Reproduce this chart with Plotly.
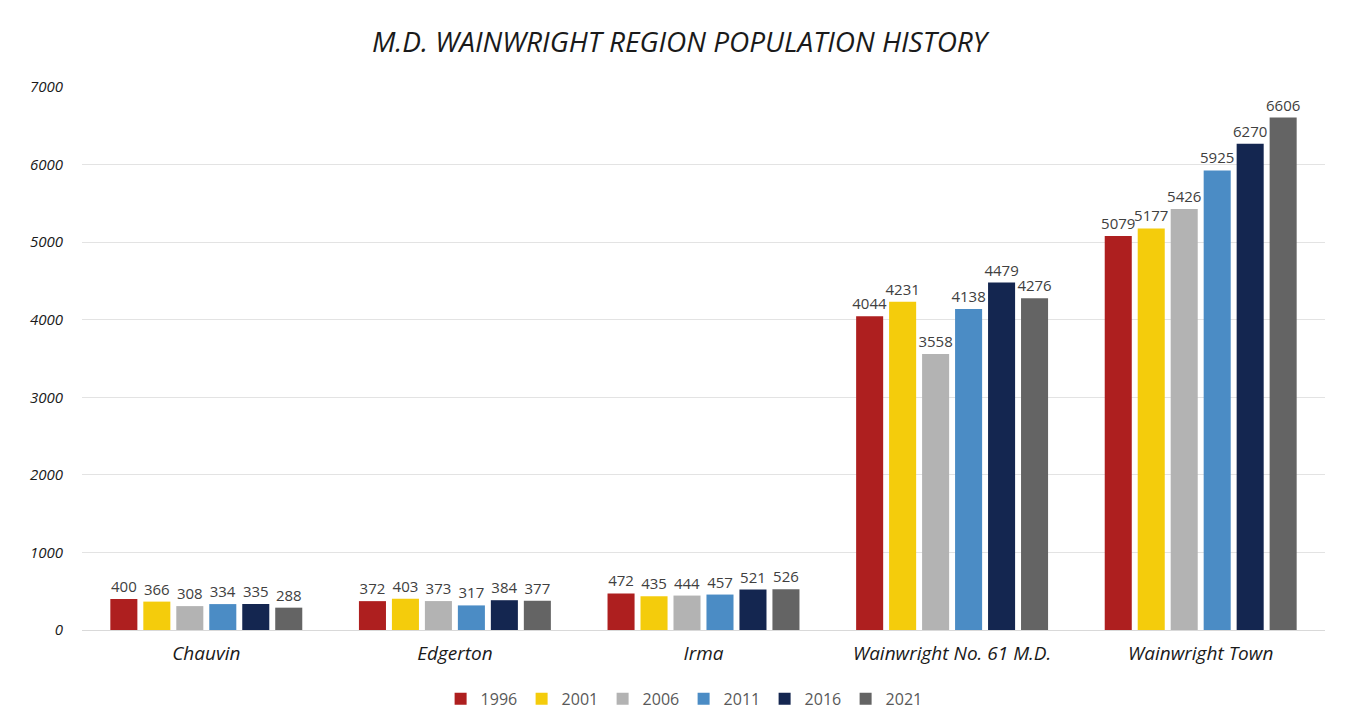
import plotly.graph_objects as go

categories = ["Chauvin", "Edgerton", "Irma", "Wainwright No. 61 M.D.", "Wainwright Town"]
years = ["1996", "2001", "2006", "2011", "2016", "2021"]
values = {
    "1996": [400, 372, 472, 4044, 5079],
    "2001": [366, 403, 435, 4231, 5177],
    "2006": [308, 373, 444, 3558, 5426],
    "2011": [334, 317, 457, 4138, 5925],
    "2016": [335, 384, 521, 4479, 6270],
    "2021": [288, 377, 526, 4276, 6606],
}
colors = {
    "1996": "#AE1F1F",
    "2001": "#F4CC0C",
    "2006": "#B3B3B3",
    "2011": "#4B8CC5",
    "2016": "#142650",
    "2021": "#646464",
}

fig = go.Figure()
for y in years:
    fig.add_trace(go.Bar(
        name=y, x=categories, y=values[y],
        marker=dict(color=colors[y], line=dict(width=0)),
        text=[str(v) for v in values[y]], textposition="outside",
        textfont=dict(family="Open Sans", size=15, color="#404040"),
        constraintext="none",
        cliponaxis=False,
    ))

fig.update_layout(
    width=1351, height=727,
    paper_bgcolor="white", plot_bgcolor="white",
    barmode="group", bargap=0.204, bargroupgap=0.18,
    margin=dict(l=74, r=34, t=79, b=105, autoexpand=False),
    title=dict(text="<i>M.D. WAINWRIGHT REGION POPULATION HISTORY</i>",
               x=0.497, xanchor="center", y=0.953, yanchor="middle",
               font=dict(family="Open Sans", size=28, color="#1a1a1a")),
    legend=dict(orientation="h", x=0.484, xanchor="center", y=-0.127, yanchor="middle",
                font=dict(family="Open Sans", size=16, color="#595959"),
                entrywidth=36, traceorder="normal"),
)
fig.update_xaxes(
    showgrid=False, showline=True, linecolor="#D9D9D9", linewidth=1,
    tickfont=dict(family="Open Sans", size=19, color="#1a1a1a"),
    tickvals=categories, ticktext=[f"<i>{c}</i>" for c in categories],
    ticks="", ticklabelstandoff=6,
)
fig.update_yaxes(
    range=[0, 7000], dtick=1000, showgrid=True, gridcolor="#E3E3E3", gridwidth=1,
    zeroline=False, showline=False,
    tickfont=dict(family="Open Sans", size=15, color="#1a1a1a"),
    tickvals=[0, 1000, 2000, 3000, 4000, 5000, 6000, 7000],
    ticktext=[f"<i>{v}</i>" for v in [0, 1000, 2000, 3000, 4000, 5000, 6000, 7000]],
    ticklabelstandoff=18,
)
fig.write_html("out.html")
